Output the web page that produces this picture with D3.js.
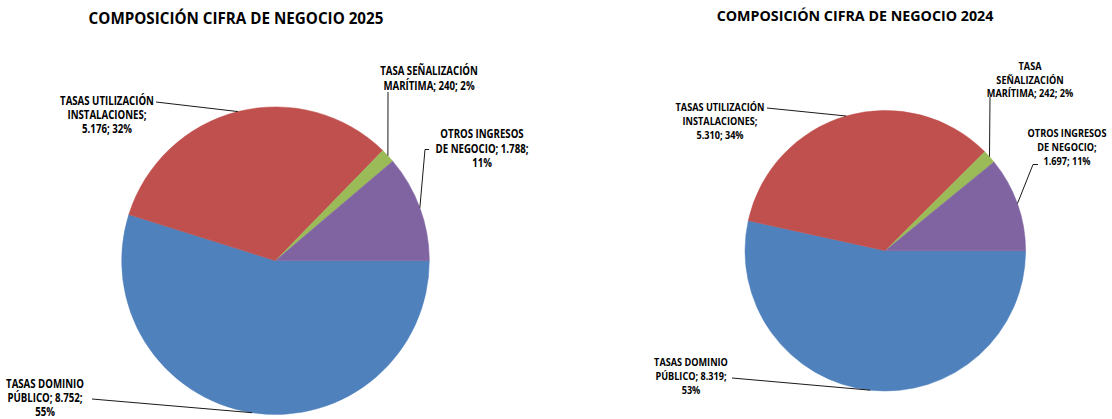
<!DOCTYPE html>
<html>
<head>
<meta charset="utf-8">
<title>composicion cifra de negocio</title>
<script src="https://cdn.jsdelivr.net/npm/d3@7"></script>
<style>
  html, body { margin: 0; padding: 0; background: #fff; }
  svg { display: block; font-family: "Open Sans", "Liberation Sans", sans-serif; font-weight: bold; }
</style>
</head>
<body>
<svg id="chart" width="1112" height="419"></svg>
<script>

// categories, same order as the slices (clockwise from 3 o'clock)
var categories = ["TASAS DOMINIO PÚBLICO", "TASAS UTILIZACIÓN INSTALACIONES",
                  "TASA SEÑALIZACIÓN MARÍTIMA", "OTROS INGRESOS DE NEGOCIO"];
var values2025 = [8752, 5176, 240, 1788];
var values2024 = [8319, 5310, 242, 1697];
var titles = ["COMPOSICIÓN CIFRA DE NEGOCIO 2025", "COMPOSICIÓN CIFRA DE NEGOCIO 2024"];
// how many words go on each line of each label (excel wrapping)
var wrap2025 = [[2, 2, 1], [2, 1, 2], [2, 3], [2, 3, 1]];
var wrap2024 = [[2, 2, 1], [2, 1, 2], [1, 1, 3], [2, 2, 2]];

var colors = ["#4f81bd", "#c0504d", "#9bbb59", "#8064a2"];

var es = d3.formatLocale({decimal: ",", thousands: ".", grouping: [3], currency: ["", " €"]});
var fmt = es.format(",d");

var svg = d3.select("#chart");

// layout for each chart
var charts = [
  {
    title: titles[0], values: values2025, wrap: wrap2025,
    cx: 275.5, cy: 260.7, r: 153.8,
    titleX: 236, titleY: 17.5, titleSize: 16, titleLen: 295,
    fontSize: 11.5, lineH: 14.2, refWidth: 94,
    // label center x, first line y, leader points from label side
    labels: [
      {x: 45,  y: 383.5, leader: [[92, 399]]},
      {x: 107, y: 100.5, leader: [[156, 102]]},
      {x: 429, y: 71,    leader: [[388, 92]]},
      {x: 482, y: 134,   leader: [[429, 149.5], [425, 149.5]]}
    ]
  },
  {
    title: titles[1], values: values2024, wrap: wrap2024,
    cx: 885.3, cy: 250.7, r: 140.3,
    titleX: 855, titleY: 15, titleSize: 15, titleLen: 277,
    fontSize: 11, lineH: 13.7, refWidth: 89,
    labels: [
      {x: 691,  y: 362,   leader: [[732, 378]]},
      {x: 720,  y: 107,   leader: [[767, 108]]},
      {x: 1030, y: 65.5,  leader: [[990, 97]]},
      {x: 1067, y: 133,   leader: [[1038, 164.5], [1033, 164.5]]}
    ]
  }
];

// squeeze a text horizontally around its anchor (calibri is narrow)
function squeezeText(t, x, y, sx) {
  t.attr("x", 0).attr("y", 0)
    .attr("transform", "translate(" + x + "," + y + ") scale(" + sx + ",1)");
}

charts.forEach(function (c) {
  var g = svg.append("g");
  var total = d3.sum(c.values);

  var title = g.append("text")
    .attr("text-anchor", "middle")
    .attr("dominant-baseline", "central")
    .attr("font-size", c.titleSize)
    .attr("fill", "#000")
    .text(c.title);
  squeezeText(title, c.titleX, c.titleY, c.titleLen / title.node().getComputedTextLength());

  var pie = d3.pie()
    .sort(null)
    .startAngle(Math.PI / 2)
    .endAngle(Math.PI / 2 + 2 * Math.PI);

  var arcs = pie(c.values);
  var arc = d3.arc().innerRadius(0).outerRadius(c.r);
  var edge = d3.arc().innerRadius(c.r).outerRadius(c.r);

  var pg = g.append("g").attr("transform", "translate(" + c.cx + "," + c.cy + ")");
  pg.selectAll("path.slice")
    .data(arcs)
    .enter().append("path")
      .attr("class", "slice")
      .attr("d", arc)
      .attr("fill", function (d, i) { return colors[i] })
      .attr("stroke", function (d, i) { return colors[i] })
      .attr("stroke-width", 0.5);

  // leader lines, from the slice edge at mid angle to the label
  var line = d3.line();
  arcs.forEach(function (d, i) {
    var p = edge.centroid(d);
    var pts = [[c.cx + p[0], c.cy + p[1]]].concat(c.labels[i].leader.slice().reverse());
    g.append("path")
      .attr("d", line(pts))
      .attr("fill", "none")
      .attr("stroke", "#1a1a1a")
      .attr("stroke-width", 1);
  });

  // labels: "CATEGORY; value; pct%"
  var texts = [];
  arcs.forEach(function (d, i) {
    var pct = Math.round(d.value / total * 100);
    var words = (categories[i] + "; " + fmt(d.value) + "; " + pct + "%").split(" ");
    var k = 0;
    c.wrap[i].forEach(function (n, j) {
      var t = g.append("text")
        .attr("text-anchor", "middle")
        .attr("dominant-baseline", "central")
        .attr("font-size", c.fontSize)
        .attr("fill", "#000")
        .text(words.slice(k, k + n).join(" "));
      k += n;
      texts.push({t: t, x: c.labels[i].x, y: c.labels[i].y + j * c.lineH});
    });
  });

  var ref = texts[3].t.node().getComputedTextLength(); // "TASAS UTILIZACIÓN"
  var sx = c.refWidth / ref;
  texts.forEach(function (o) { squeezeText(o.t, o.x, o.y, sx); });
});

</script>
</body>
</html>
